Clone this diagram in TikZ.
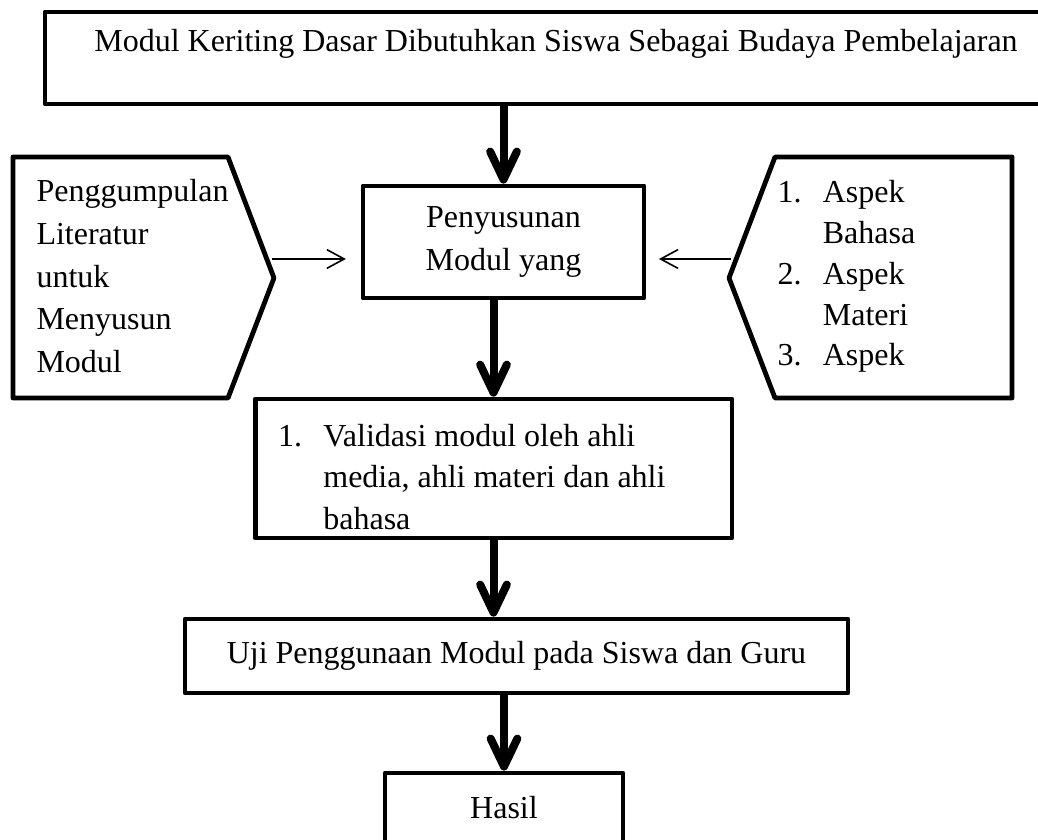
\documentclass[tikz,border=0pt]{standalone}
\usepackage{fontspec}
\setmainfont{Liberation Serif}
\usepackage{tikz}
\usetikzlibrary{positioning,arrows.meta,calc}
\tikzset{
     block/.style={rectangle, draw, line width=1.8pt, line join=round,
                   inner sep=0pt, text centered},
     arrow/.style={-{Straight Barb[length=10.5pt,width=10pt,round]}, line width=3pt},
     thinarrow/.style={-{Straight Barb[length=6.5pt,width=7pt]}, line width=0.6pt}
     }

\begin{document}
\begin{tikzpicture}[x=0.375pt,y=-0.375pt,
  every node/.style={font=\fontsize{12pt}{16pt}\selectfont}]
\tikzstyle{pentagon} = [draw, line width=1.8pt, line join=round]
\tikzstyle{listtext} = [align=left, inner sep=0pt, anchor=north west]

\useasboundingbox (0,0) rectangle (1038,840);
\clip (0,0) rectangle (1038,840);

\node [block, minimum width=383.25pt, minimum height=34.5pt,
  text height=9pt, text depth=13.5pt] (judul) at (556,58)
  {Modul Keriting Dasar Dibutuhkan Siswa Sebagai Budaya Pembelajaran};
\node [block, minimum width=105.4pt, minimum height=42pt, align=center] (pen) at (503.5,242)
  {Penyusunan\\Modul yang};
\node [block, minimum height=52.1pt, text width=161.6pt, align=flush left, inner xsep=8.6pt,
  text height=14.5pt, font=\fontsize{12pt}{15.6pt}\selectfont] (val) at (493.5,468.5)
  {\makebox[17pt][l]{1.}Validasi modul oleh ahli\\
   \hspace*{17pt}media, ahli materi dan ahli\\
   \hspace*{17pt}bahasa};
\node [block, minimum width=248.6pt, minimum height=27.75pt] (uji) at (516.5,656)
  {Uji Penggunaan Modul pada Siswa dan Guru};
\node [block, minimum width=89.25pt, minimum height=26.25pt] (hasil) at (504,808) {Hasil};

% side boxes
\node [listtext] (lit) at (36,179) {Penggumpulan\\Literatur\\untuk\\Menyusun\\Modul};
\draw [pentagon] (13,157) -- (228,157) -- (274,278) -- (228,398) -- (13,398) -- cycle;

\node [listtext, font=\fontsize{12pt}{15.3pt}\selectfont] (asp) at (777,180)
  {\makebox[17pt][l]{1.}Aspek\\\hspace*{17pt}Bahasa\\
   \makebox[17pt][l]{2.}Aspek\\\hspace*{17pt}Materi\\
   \makebox[17pt][l]{3.}Aspek};
\draw [pentagon] (775,157) -- (1012,157) -- (1012,398) -- (775,398) -- (729,278) -- cycle;

\coordinate (littip) at (272,259);
\coordinate (asptip) at (731,259);

%Lines
\draw [thinarrow, shorten >=5.5pt] (littip) -- (littip -| pen.west);
\draw [thinarrow, shorten >=4.7pt] (asptip) -- (asptip -| pen.east);

\draw [arrow] (judul.south -| pen.north) -- (pen.north);
\draw [arrow] (pen.south -| val.north) -- (val.north);
\draw [arrow] (val.south) -- (val.south |- uji.north);
\draw [arrow] (uji.south -| hasil.north) -- (hasil.north);
\end{tikzpicture}
\end{document}
